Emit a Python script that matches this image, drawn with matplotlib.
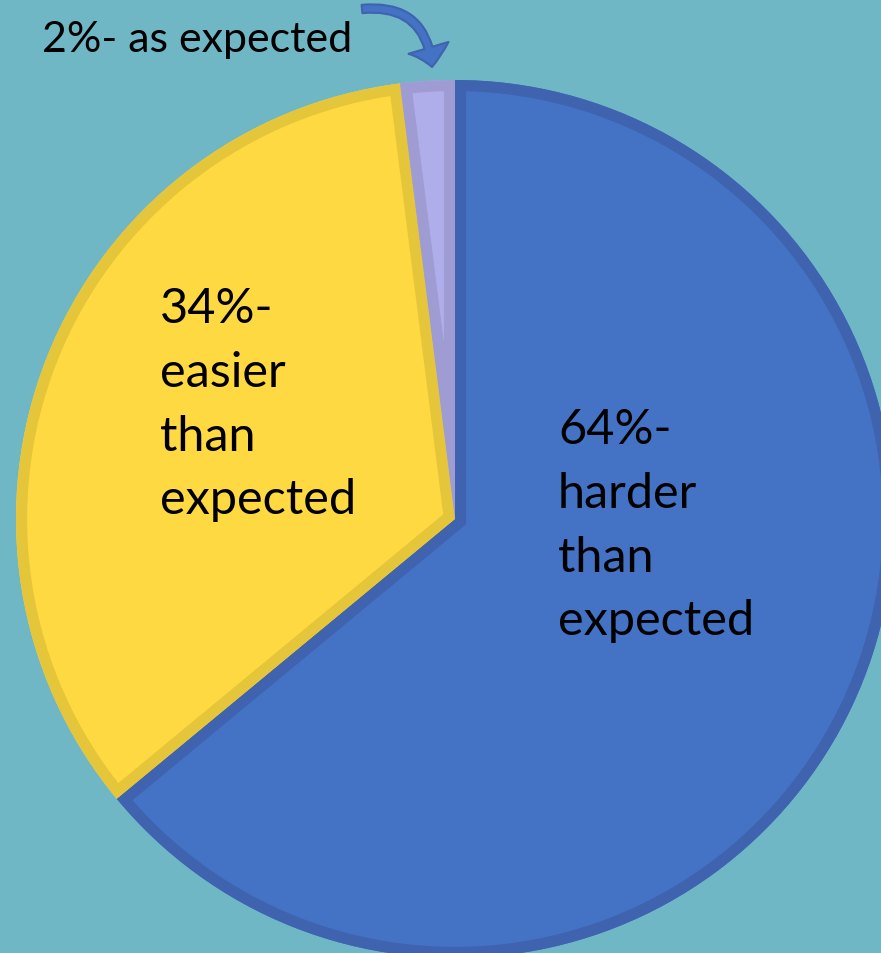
import matplotlib.pyplot as plt
from matplotlib.patches import FancyArrowPatch, Wedge

labels = ["64%-\nharder\nthan\nexpected", "34%-\neasier\nthan\nexpected", "2%- as expected"]
shares = [64, 34, 2]
fills = ["#4472C4", "#FFD941", "#B0AEEA"]
edges = ["#3F63AE", "#E5C53A", "#9F9CD3"]
bg = "#70B7C5"

plt.rcParams['font.family'] = ['Lato', 'DejaVu Sans']

fig = plt.figure(figsize=(8.81, 9.54), dpi=100, facecolor=bg)
ax = fig.add_axes([0, 0, 1, 1])
ax.set_facecolor(bg)

wedges, _ = ax.pie(shares, colors=fills, startangle=90, counterclock=False,
                   center=(455, 434), radius=439,
                   wedgeprops=dict(linewidth=0))

# inner stroke: an outline copy of each wedge, clipped to the wedge itself
for w, ec in zip(wedges, edges):
    ring = Wedge(w.center, w.r, w.theta1, w.theta2, facecolor='none',
                 edgecolor=ec, linewidth=16, joinstyle='miter')
    ax.add_patch(ring)
    ring.set_clip_path(w)

ax.set_xlim(0, 881)
ax.set_ylim(0, 954)
ax.set_aspect('equal')
ax.axis('off')

ax.text(558, 546, labels[0], fontsize=35, va='top', ha='left', linespacing=1.55, color='black')
ax.text(160, 667, labels[1], fontsize=35, va='top', ha='left', linespacing=1.55, color='black')
ax.text(42, 914, labels[2], fontsize=31, va='center', ha='left', color='black')

arrow = FancyArrowPatch((362, 944), (432, 886),
                        connectionstyle='arc3,rad=-0.5',
                        arrowstyle='Simple,tail_width=6,head_width=30,head_length=14',
                        shrinkA=0, shrinkB=0,
                        facecolor="#4472C4", edgecolor="#3F63AE", linewidth=1.5)
ax.add_patch(arrow)

fig.savefig('out.png', dpi=100, facecolor=bg)
